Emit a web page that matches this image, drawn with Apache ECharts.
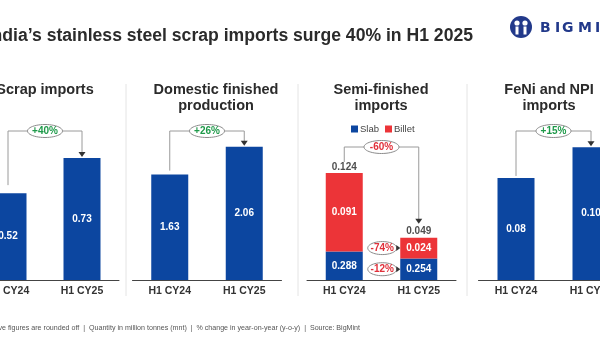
<!DOCTYPE html>
<html>
<head>
<meta charset="utf-8">
<script src="https://cdn.jsdelivr.net/npm/echarts@6/dist/echarts.min.js"></script>
<style>
html,body{margin:0;padding:0;background:#fff;}
#chart{width:600px;height:350px;}
</style>
</head>
<body>
<div id="chart"></div>
<script>
// ---- data ----
const categories = ['H1 CY24', 'H1 CY25'];
const scrapImports = [0.52, 0.73];
const scrapLabels = ['0.52', '0.73'];
const domesticProduction = [1.63, 2.06];
const domesticLabels = ['1.63', '2.06'];
const slabImports = [0.033, 0.025];      // drawn heights
const slabLabels = ['0.288', '0.254'];   // printed labels
const billetImports = [0.091, 0.024];
const billetLabels = ['0.091', '0.024'];
const semiTotals = [0.124, 0.049];
const semiTotalLabels = ['0.124', '0.049'];
const feniImports = [0.08, 0.104];
const feniLabels = ['0.08', '0.10'];
const changeScrap = '+40%';
const changeDomestic = '+26%';
const changeSemi = '-60%';
const changeBillet = '-74%';
const changeSlab = '-12%';
const changeFeni = '+15%';
const panelTitles = ['Scrap imports', 'Domestic finished\nproduction', 'Semi-finished\nimports', 'FeNi and NPI\nimports'];
const mainTitle = "India\u2019s stainless steel scrap imports surge 40% in H1 2025";
const footnote = 'Note: Above figures are rounded off  |  Quantity in million tonnes (mnt)  |  % change in year-on-year (y-o-y)  |  Source: BigMint';

// ---- style ----
const BLUE = '#0c46a0';
const RED = '#ec3438';
const GREEN = '#1f9a4a';
const NEG = '#e0303a';
const FONT = 'Liberation Sans';

const chart = echarts.init(document.getElementById('chart'), null, {renderer: 'canvas'});

const gridBoxes = [
  {left: -29, width: 148},
  {left: 132.5, width: 149},
  {left: 307, width: 149},
  {left: 478.5, width: 150}
];
const yMax = [0.898, 2.32, 0.1738, 0.1176];

const grids = gridBoxes.map(g => ({left: g.left, width: g.width, top: 130, height: 150,
  containLabel: false, outerBoundsMode: 'none'}));
const xAxes = gridBoxes.map((g, i) => ({
  type: 'category', gridIndex: i, data: categories,
  axisLine: {lineStyle: {color: '#444', width: 1}},
  axisTick: {show: false},
  axisLabel: {color: '#333', fontFamily: FONT, fontWeight: 'bold', fontSize: 10.5, margin: 6}
}));
const yAxes = yMax.map((m, i) => ({
  type: 'value', gridIndex: i, min: 0, max: m, show: false, splitLine: {show: false}
}));

function innerLabel(arr) {
  return {show: true, position: 'inside', color: '#fff', fontFamily: FONT, fontWeight: 'bold', fontSize: 10,
    formatter: p => arr[p.dataIndex]};
}

const series = [
  {type: 'bar', name: 'Scrap', xAxisIndex: 0, yAxisIndex: 0, data: scrapImports, barWidth: 37,
    itemStyle: {color: BLUE}, label: innerLabel(scrapLabels)},
  {type: 'bar', name: 'Domestic', xAxisIndex: 1, yAxisIndex: 1, data: domesticProduction, barWidth: 37,
    itemStyle: {color: BLUE}, label: innerLabel(domesticLabels)},
  {type: 'bar', name: 'Slab', xAxisIndex: 2, yAxisIndex: 2, data: slabImports, stack: 'semi', barWidth: 37,
    itemStyle: {color: BLUE}, label: innerLabel(slabLabels)},
  {type: 'bar', name: 'Billet', xAxisIndex: 2, yAxisIndex: 2, data: billetImports, stack: 'semi', barWidth: 37,
    itemStyle: {color: RED}, label: innerLabel(billetLabels)},
  {type: 'scatter', name: 'Total', xAxisIndex: 2, yAxisIndex: 2, data: semiTotals, symbolSize: 0.1,
    itemStyle: {color: 'rgba(0,0,0,0)'}, silent: true,
    label: {show: true, position: 'top', distance: 1, color: '#222', fontFamily: FONT, fontWeight: 'bold', fontSize: 10,
      formatter: p => semiTotalLabels[p.dataIndex]}},
  {type: 'bar', name: 'FeNi', xAxisIndex: 3, yAxisIndex: 3, data: feniImports, barWidth: 37,
    itemStyle: {color: BLUE}, label: innerLabel(feniLabels)}
];

chart.setOption({
  animation: false,
  backgroundColor: '#fff',
  grid: grids,
  xAxis: xAxes,
  yAxis: yAxes,
  legend: {
    data: [{name: 'Slab', itemStyle: {color: BLUE}}, {name: 'Billet', itemStyle: {color: RED}}],
    left: 351, top: 124, padding: 0, icon: 'rect', itemWidth: 7, itemHeight: 7, itemGap: 6,
    textStyle: {color: '#444', fontFamily: FONT, fontSize: 9.5, padding: [0, 0, 0, -3]},
    selectedMode: false
  },
  series: series
});

// ---- annotations computed from data through the axes ----
function px(gi, ci, v) { return chart.convertToPixel({gridIndex: gi}, [ci, v]); }

function ellipsePts(cx, cy, rx, ry) {
  const pts = [];
  for (let k = 0; k < 48; k++) {
    const a = k / 48 * Math.PI * 2;
    pts.push([cx + rx * Math.cos(a), cy + ry * Math.sin(a)]);
  }
  return pts;
}

const g = [];
function badge(cx, cy, rx, text, color) {
  g.push({type: 'polygon', shape: {points: ellipsePts(cx, cy, rx, 6.5)},
    style: {fill: '#fff', stroke: '#8c8c8c', lineWidth: 1}, z: 10});
  g.push({type: 'text', z: 11, style: {text: text, x: cx, y: cy + 0.5, align: 'center', verticalAlign: 'middle',
    textAlign: 'center', textVerticalAlign: 'middle',
    fill: color, fontFamily: FONT, fontWeight: 'bold', fontSize: 10}});
}
function bracket(gi, v0, v1, yTop, gap0, gap1, text, color) {
  const p0 = px(gi, 0, v0), p1 = px(gi, 1, v1);
  const yEnd = p1[1] - gap1;
  g.push({type: 'polyline', shape: {points: [[p0[0], p0[1] - gap0], [p0[0], yTop], [p1[0], yTop], [p1[0], yEnd - 4]]},
    style: {stroke: '#9a9a9a', lineWidth: 1, fill: null}, z: 5});
  g.push({type: 'polygon', shape: {points: [[p1[0] - 3.5, yEnd - 5], [p1[0] + 3.5, yEnd - 5], [p1[0], yEnd]]},
    style: {fill: '#333'}, z: 6});
  badge((p0[0] + p1[0]) / 2, yTop, 17.5, text, color);
}

bracket(0, scrapImports[0], scrapImports[1], 131, 8, 1, changeScrap, GREEN);
bracket(1, domesticProduction[0], domesticProduction[1], 131, 4, 1, changeDomestic, GREEN);
bracket(2, semiTotals[0], semiTotals[1], 147, 11, 14, changeSemi, NEG);
bracket(3, feniImports[0], feniImports[1], 131, 2, 1, changeFeni, GREEN);

// side badges for CY25 segments
(function () {
  const barLeft = px(2, 1, 0)[0] - 18.5;
  const yBillet = px(2, 1, slabImports[1] + billetImports[1] / 2)[1];
  const ySlab = px(2, 1, slabImports[1] / 2)[1];
  [[yBillet, changeBillet], [ySlab, changeSlab]].forEach(([y, t]) => {
    badge(barLeft - 18, y, 14.5, t, NEG);
    g.push({type: 'polygon', shape: {points: [[barLeft - 4, y - 3], [barLeft - 4, y + 3], [barLeft, y]]},
      style: {fill: '#333'}, z: 12});
  });
})();

// dividers
[126, 298, 467].forEach(x => {
  g.push({type: 'line', shape: {x1: x, y1: 84, x2: x, y2: 296}, style: {stroke: '#e4e4e4', lineWidth: 1}});
});

// titles
g.push({type: 'text', style: {text: mainTitle, x: 473, y: 36, align: 'right', verticalAlign: 'middle',
  textAlign: 'right', textVerticalAlign: 'middle',
  fill: '#2b2b2b', fontFamily: FONT, fontWeight: 'bold', fontSize: 17.6}});
const titlePos = [[45, 90], [216, 98], [381, 98], [549, 98]];
panelTitles.forEach((t, i) => {
  g.push({type: 'text', style: {text: t, x: titlePos[i][0], y: titlePos[i][1], align: 'center', verticalAlign: 'middle',
    textAlign: 'center', textVerticalAlign: 'middle', lineHeight: 16,
    fill: '#2b2b2b', fontFamily: FONT, fontWeight: 'bold', fontSize: 14.5}});
});

// footnote
g.push({type: 'text', style: {text: footnote, x: 360, y: 328, align: 'right', verticalAlign: 'middle',
  textAlign: 'right', textVerticalAlign: 'middle',
  fill: '#555', fontFamily: FONT, fontSize: 7.1}});

// logo
g.push({type: 'circle', shape: {cx: 521, cy: 27, r: 11}, style: {fill: '#22398a'}});
g.push({type: 'circle', shape: {cx: 517, cy: 23, r: 2.6}, style: {fill: '#fff'}});
g.push({type: 'circle', shape: {cx: 525, cy: 23, r: 2.6}, style: {fill: '#fff'}});
g.push({type: 'rect', shape: {x: 515.5, y: 26.5, width: 3, height: 8}, style: {fill: '#fff'}});
g.push({type: 'rect', shape: {x: 523.5, y: 26.5, width: 3, height: 8}, style: {fill: '#fff'}});
g.push({type: 'rect', shape: {x: 520, y: 17, width: 2, height: 18}, style: {fill: '#22398a'}});
const logoLetters = ['B', 'I', 'G', 'M', 'I', 'N', 'T'];
const logoX = [540, 555, 562, 578, 595, 603, 616];
logoLetters.forEach((ch, i) => {
  g.push({type: 'text', style: {text: ch, x: logoX[i], y: 28, align: 'left', verticalAlign: 'middle',
    textAlign: 'left', textVerticalAlign: 'middle',
    fill: '#22398a', fontFamily: 'DejaVu Sans', fontWeight: 'bold', fontSize: 14}});
});

chart.setOption({graphic: g});
</script>
</body>
</html>
